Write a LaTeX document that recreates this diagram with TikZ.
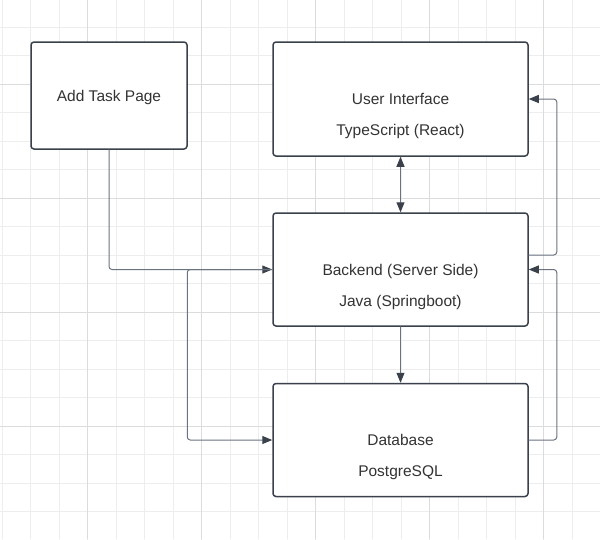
\documentclass[tikz,border=0pt]{standalone}
\usepackage{fontspec}
\setmainfont{Liberation Sans}
\usetikzlibrary{arrows.meta}
\definecolor{edgecol}{HTML}{3A414A}
\definecolor{wirecol}{HTML}{6B7280}
\definecolor{inkcol}{HTML}{333333}
\definecolor{gridminor}{HTML}{EDEDED}
\definecolor{gridmajor}{HTML}{DCDCDC}
\begin{document}
\begin{tikzpicture}[x=1pt, y=-1pt, >={Triangle[length=10pt,width=8pt,color=edgecol]}, line join=round, line cap=round,
	font=\fontsize{15.5}{18}\selectfont,
	box/.style={draw=edgecol, line width=1.5pt, rounded corners=3pt, fill=white, inner sep=0pt},
	txt/.style={anchor=base, text=inkcol},
	wire/.style={draw=wirecol, line width=1pt, rounded corners=3pt, ->}]
	\useasboundingbox [fill=white] (0,0) rectangle (600,539);
	% grid
	\foreach \i in {0,...,21} \draw [gridminor, line width=1pt] (2+28.5*\i,0)--(2+28.5*\i,539);
	\foreach \j in {-3,...,16} \draw [gridminor, line width=1pt] (0,84+28.5*\j)--(600,84+28.5*\j);
	\foreach \i in {87.5,201.5,315.5,429.5,543.5} \draw [gridmajor, line width=1pt] (\i,0)--(\i,539);
	\foreach \j in {84,198,312,426} \draw [gridmajor, line width=1pt] (0,\j)--(600,\j);
	% boxes
	\node [box, minimum width=156pt, minimum height=107pt] (task) at (109,95.5) {};
	\node [box, minimum width=255pt, minimum height=114pt] (ui) at (400.5,99) {};
	\node [box, minimum width=255pt, minimum height=113pt] (back) at (400.5,269.5) {};
	\node [box, minimum width=255pt, minimum height=113pt] (db) at (400.5,440) {};
	\node [txt] (tasktxt) at ([yshift=-5.5pt]task.center) {Add Task Page};
	\node [txt] (uitop) at ([yshift=-5.5pt]ui.center) {User Interface};
	\node [txt] (uibot) at ([yshift=-36.5pt]ui.center) {TypeScript (React)};
	\node [txt] (backtop) at ([yshift=-5.5pt]back.center) {Backend (Server Side)};
	\node [txt] (backbot) at ([yshift=-37pt]back.center) {Java (Springboot)};
	\node [txt] (dbtop) at ([yshift=-5.5pt]db.center) {Database};
	\node [txt] (dbbot) at ([yshift=-36.5pt]db.center) {PostgreSQL};
	% connectors
	\draw [wire, <->] (ui.south)--(back.north);
	\draw [wire] (back.south)--(db.north);
	\draw [wire] (task.south) |- (back.west);
	\draw [wire] (back.west) -- ++(-85,0) |- (db.west);
	\draw [wire] ([yshift=14.5pt]back.east) -- ++(28,0) |- (ui.east);
	\draw [wire] (db.east) -- ++(28,0) |- (back.east);
\end{tikzpicture}
\end{document}
